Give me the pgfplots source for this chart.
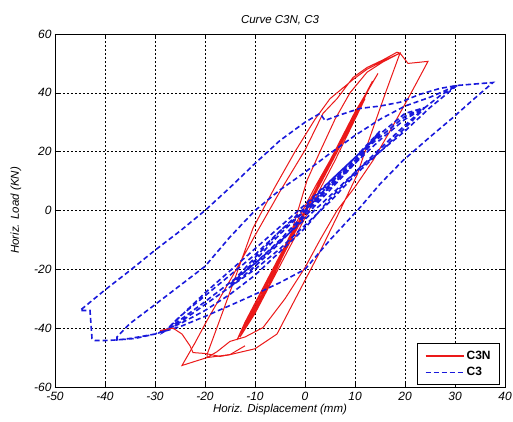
\documentclass[border=0pt]{standalone}
\usepackage{pgfplots}
\pgfplotsset{compat=1.18}
\usepackage{fontspec}
\setmainfont{Liberation Sans}
\definecolor{cred}{RGB}{235,25,25}
\definecolor{cblue}{RGB}{25,25,220}
\begin{document}
\begin{tikzpicture}
\begin{axis}[
  at={(0,0)}, anchor=south west,
  scale only axis, width=450pt, height=353pt,
  xmin=-50, xmax=40, ymin=-60, ymax=60,
  xtick={-50,-40,...,40}, ytick={-60,-40,...,60},
  grid=major,
  major grid style={black, dash pattern=on 2pt off 2pt, line width=0.5pt},
  tick align=inside, tick style={black, line width=0.5pt},
  major tick length=4pt,
  axis line style={black, line width=0.6pt},
  /pgf/number format/assume math mode=true,
  ticklabel style={font=\fontsize{12}{14}\selectfont\itshape},
  xticklabel style={yshift=-2pt},
  title={Curve C3N, C3},
  title style={font=\fontsize{11.5}{13}\selectfont\itshape, yshift=-1pt},
  xlabel={Horiz. Displacement (mm)},
  ylabel={Horiz. Load (KN)},
  label style={font=\fontsize{11.5}{13}\selectfont\itshape},
  xlabel style={yshift=4pt},
  ylabel style={yshift=6pt},
  legend style={at={(rel axis cs:0.989,0.006)}, anchor=south east,
    draw=black, line width=0.8pt, fill=white,
    font=\fontsize{12}{14}\selectfont\bfseries, inner xsep=7pt, inner ysep=5pt,
    row sep=3pt},
  legend cell align=left,
  legend image code/.code={\draw[#1] (0pt,0pt) -- (38pt,0pt);},
]
% C3N (red, solid)
\addplot[cred, line width=1pt,
  legend image code/.code={\draw[cred, line width=2pt] (0pt,0pt) -- (38pt,0pt);}] coordinates {
 (0,0) (5,17) (10,33.5) (14.6,46.6) (12,39) (8,26) (4,13) (0,0) (-4,-12) (-8,-25) (-12,-38) (-13.6,-44)
 (-10,-32) (-6,-19) (-2,-5) (2,8) (6,20) (10,33) (13,42) (10,32) (6,19) (2,6) (-2,-7) (-6,-20) (-10,-33) (-13,-42)
 (-9,-30) (-5,-16) (-1,-3) (3,10) (7,23) (11,36) (13.5,44) (11,35) (7,22) (3,9) (-1,-4) (-5,-17) (-9,-30) (-12.6,-42)
 (-8,-28) (-4,-14) (0,-1) (4,12) (8,25) (12,38) (10,31) (6,17) (2,4) (-2,-9) (-6,-22) (-10,-35) (-13,-43)
 (-8,-27) (-3,-9) (0.4,10.2) (3,20) (6,31) (9,40) (12.4,47) (15.6,50.5) (19,53.5)
 (16,39.5) (13,25) (10.4,12) (7,0) (3,-14) (-1,-27) (-5.6,-42) (-10,-47) (-15,-49) (-19.6,-50)
 (-19.6,-49) (-17,-37) (-14,-23) (-10.4,-6) (-6,8) (-2,20) (2,31) (5,38) (9.6,44.5) (12.4,48) (15.6,50.8) (19,53.5)
 (20.6,50) (22.4,50.3) (24.6,50.7)
 (22.5,44) (20.4,37.4) (17,27) (13.6,17) (10,8) (6.4,0) (3,-10) (0,-19.4) (-4,-30) (-8.4,-39.8) (-12,-43)
 (-15,-44.5) (-17.6,-48) (-19.6,-50) (-22.4,-51.5) (-24.6,-52.7)
 (-22,-45) (-19.6,-37.4) (-14.4,-22) (-10,-8.5) (-5,6.5) (0,20.5) (3.6,33) (6.4,38) (9.6,45.2) (12.4,48.6) (15.6,51.2) (18.4,53.8) (19,53.5)
};
\addlegendentry{C3N}
% C3 (blue, dashed)
\addplot[cblue, line width=1.6pt, dash pattern=on 5pt off 3pt] coordinates {
 (0,0) (5,9) (10,18) (15,27)
 (10,17) (5,8) (0,-1) (-5,-10) (-10,-18) (-15,-25)
 (-10,-16) (-5,-7) (0,1) (5,10) (10,18) (15,26)
 (10,16) (5,7) (0,-2) (-5,-11) (-10,-19) (-15,-26)
 (-10,-17) (-5,-8) (0,0) (5,9) (10,17) (15,26) (20,33) (24,35)
 (20,28) (15,20) (10,12) (5,3) (0,-5) (-5,-13) (-10,-20) (-15,-26) (-20,-32) (-25,-38) (-28,-41)
 (-25,-36) (-20,-29) (-15,-22) (-10,-15) (-5,-7) (0,0) (5,8) (10,16) (15,24) (20,31) (24,35)
 (20,29) (10,13) (0,-3) (-10,-18) (-20,-31) (-28,-41)
 (-20,-28) (-10,-13) (0,2) (10,18) (20,32) (24,35) (27,39) (30.4,42.5)
 (25,35) (20,27) (15,20) (10.4,13.6) (5,4) (0,-6) (-5,-14) (-10,-22) (-15,-28.5) (-20,-34) (-25,-38.5) (-30,-42) (-34,-43.5) (-37.6,-44)
 (-37.6,-43) (-35,-38.4) (-30,-32) (-25,-25.5) (-20,-19) (-15,-9) (-10,0) (-5,7) (0,13) (5,19.4) (10,25.5) (15,31) (20,35.5) (25,38.5) (30.4,42.5) (37.6,43.5)
 (33.5,37.5) (29.6,31.6) (25,25) (19.6,17) (15,9) (11,1) (5,-10) (0,-20) (-5,-24.5) (-10,-28.5) (-15,-32.3) (-20,-36) (-25,-39.5) (-30,-42) (-35,-43.5) (-37.6,-44) (-40,-44.2) (-42,-44.2) (-42.6,-43.5) (-43,-34) (-45,-34)
 (-40,-27) (-35,-20.4) (-30,-13.5) (-25,-7) (-20,0) (-15,7.8) (-10,16) (-5,23.8) (0,30) (3,33) (4,30.6) (7,32.5) (11,34.7) (15,35.5) (19,36.8) (23,39.5) (27,41.5) (30.4,42.5) (34,43) (37.6,43.5)
};
\addlegendentry{C3}
\addplot[cred, line width=1pt, forget plot] coordinates {
 (-29,-40.8) (-26.4,-40) (-24.6,-42) (-23,-46) (-22.4,-48.3) (-20,-48.6) (-17,-49.6) (-15,-49) (-12,-46)
};
\end{axis}
\pgfresetboundingbox
\path (-55pt,-35pt) rectangle (458pt,387pt);
\end{tikzpicture}
\end{document}
